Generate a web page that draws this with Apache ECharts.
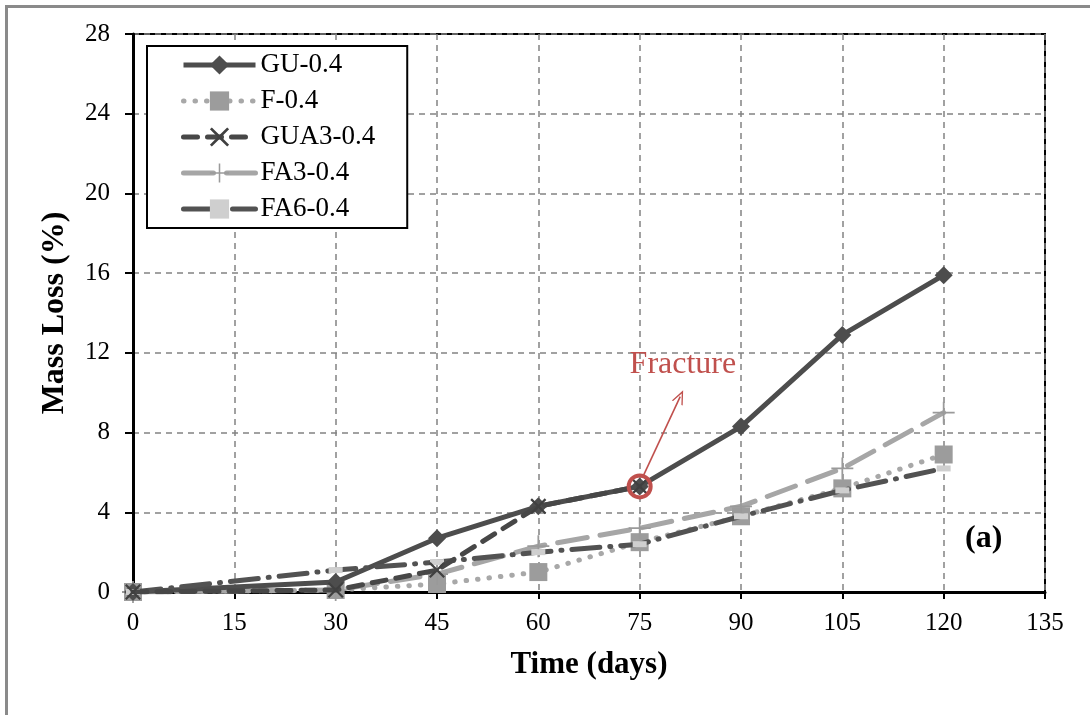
<!DOCTYPE html>
<html>
<head>
<meta charset="utf-8">
<script src="https://cdn.jsdelivr.net/npm/echarts@6/dist/echarts.min.js"></script>
<style>
  html, body { margin: 0; padding: 0; background: #fff; }
  #chart { width: 1090px; height: 715px; }
</style>
</head>
<body>
<div id="chart"></div>
<script>
// ---- data ----
const days = [0, 30, 45, 60, 75, 90, 105, 120];
const guDays = [0, 30, 45, 60, 75, 90, 105, 120];
const gua3Days = [0, 30, 45, 60, 75];
const GU = [0, 0.5, 2.7, 4.3, 5.3, 8.3, 12.9, 15.9];
const F = [0, 0.1, 0.4, 1.0, 2.5, 3.8, 5.2, 6.9];
const GUA3 = [0, 0.1, 1.1, 4.3, 5.3];
const FA3 = [0, 0.1, 0.9, 2.3, 3.2, 4.3, 6.2, 9.0];
const FA6 = [0, 1.1, 1.5, 2.0, 2.4, 3.8, 5.1, 6.2];
const seriesNames = ['GU-0.4', 'F-0.4', 'GUA3-0.4', 'FA3-0.4', 'FA6-0.4'];
const xTicks = { min: 0, max: 135, interval: 15 };
const yTicks = { min: 0, max: 28, interval: 4 };
const fracturePoint = [75, 5.3];

function pairs(xs, ys) { return xs.map((x, i) => [x, ys[i]]); }

const serif = "'Liberation Serif', 'Times New Roman', serif";
const red = '#C0504D';
const crossPath = 'path://M0,1 L1,0 L5,4 L9,0 L10,1 L6,5 L10,9 L9,10 L5,6 L1,10 L0,9 L4,5 Z';
const plusPath = 'path://M4.6,0 H5.4 V4.6 H10 V5.4 H5.4 V10 H4.6 V5.4 H0 V4.6 H4.6 Z';
const chevron = 'path://M0,10 L5,0 L10,10 L8.8,10 L5,2.4 L1.2,10 Z';

const chart = echarts.init(document.getElementById('chart'), null, { renderer: 'canvas' });

const option = {
  backgroundColor: '#fff',
  animation: false,
  grid: { left: 133, top: 34, right: 45, bottom: 123, show: true, borderColor: '#000', borderWidth: 2 },
  xAxis: {
    type: 'value', min: xTicks.min, max: xTicks.max, interval: xTicks.interval,
    name: 'Time (days)', nameLocation: 'middle', nameGap: 57,
    nameTextStyle: { fontFamily: serif, fontSize: 31, fontWeight: 'bold', color: '#000' },
    axisLine: { show: true, lineStyle: { color: '#000', width: 3 } },
    axisTick: { show: true, inside: false, length: 7, lineStyle: { color: '#000', width: 2 } },
    axisLabel: { fontFamily: serif, fontSize: 25, color: '#000', margin: 19 },
    splitLine: { show: true, lineStyle: { color: '#828282', width: 1.5, type: [6, 5] } }
  },
  yAxis: {
    type: 'value', min: yTicks.min, max: yTicks.max, interval: yTicks.interval,
    name: 'Mass Loss (%)', nameLocation: 'middle', nameGap: 62,
    nameTextStyle: { fontFamily: serif, fontSize: 32, fontWeight: 'bold', color: '#000' },
    axisLine: { show: true, lineStyle: { color: '#000', width: 3 } },
    axisTick: { show: true, inside: false, length: 8, lineStyle: { color: '#000', width: 2 } },
    axisLabel: { fontFamily: serif, fontSize: 25, color: '#000', margin: 23 },
    splitLine: { show: true, lineStyle: { color: '#828282', width: 1.5, type: [6, 5] } }
  },
  legend: {
    orient: 'vertical', left: 147, top: 46,
    padding: [5, 32, 5, 34],
    borderColor: '#000', borderWidth: 2, backgroundColor: '#fff',
    itemWidth: 72, itemHeight: 24, itemGap: 8,
    lineStyle: { width: 'inherit' },
    textStyle: { fontFamily: serif, fontSize: 27, color: '#000', lineHeight: 28 },
    data: seriesNames
  },
  series: [
    {
      name: seriesNames[0], type: 'line', data: pairs(guDays, GU),
      symbol: 'diamond', symbolSize: 18,
      itemStyle: { color: '#4d4d4d' },
      lineStyle: { color: '#4d4d4d', width: 5 },
      z: 3,
      markPoint: {
        silent: true,
        data: [
          { coord: fracturePoint, symbol: 'circle', symbolSize: 22,
            itemStyle: { color: 'rgba(0,0,0,0)', borderColor: red, borderWidth: 4 },
            label: { show: false } },
          { coord: [81.4, 11.4], symbol: 'circle', symbolSize: 0,
            label: { show: true, position: 'inside', formatter: 'Fracture', color: red,
                     fontFamily: serif, fontSize: 32 } }
        ]
      },
      markLine: {
        silent: true,
        symbol: ['none', chevron], symbolSize: [12, 14],
        label: { show: false },
        lineStyle: { color: red, width: 1.6, type: 'solid' },
        data: [[{ coord: [75.5, 5.8] }, { coord: [81, 9.8] }]]
      }
    },
    {
      name: seriesNames[1], type: 'line', data: pairs(days, F),
      symbol: 'rect', symbolSize: 18,
      itemStyle: { color: '#9c9c9c' },
      lineStyle: { color: '#a8a8a8', width: 5, type: [0.5, 11], cap: 'round' },
      z: 2
    },
    {
      name: seriesNames[2], type: 'line', data: pairs(gua3Days, GUA3),
      symbol: crossPath, symbolSize: 16,
      itemStyle: { color: '#404040' },
      lineStyle: { color: '#474747', width: 5, type: [14, 10], cap: 'round' },
      z: 4
    },
    {
      name: seriesNames[3], type: 'line', data: pairs(days, FA3),
      symbol: plusPath, symbolSize: 22,
      itemStyle: { color: '#9a9a9a' },
      lineStyle: { color: '#a6a6a6', width: 5, type: [30, 13], cap: 'round' },
      z: 2
    },
    {
      name: seriesNames[4], type: 'line', data: pairs(days, FA6),
      symbol: 'rect', symbolSize: [14, 6],
      itemStyle: { color: '#cfcfcf' },
      lineStyle: { color: '#525252', width: 5, type: [28, 10, 1, 10], cap: 'round' },
      z: 3
    }
  ],
  graphic: [
    { type: 'rect', left: 4, top: 4, z: -10, silent: true,
      shape: { x: 0, y: 0, width: 1100, height: 730 },
      style: { fill: 'none', stroke: '#8a8a8a', lineWidth: 3 } },
    { type: 'text', left: 965, top: 523, silent: true,
      style: { text: '(a)', font: "bold 32px 'Liberation Serif', serif", fill: '#000' } }
  ]
};

chart.setOption(option);
</script>
</body>
</html>
